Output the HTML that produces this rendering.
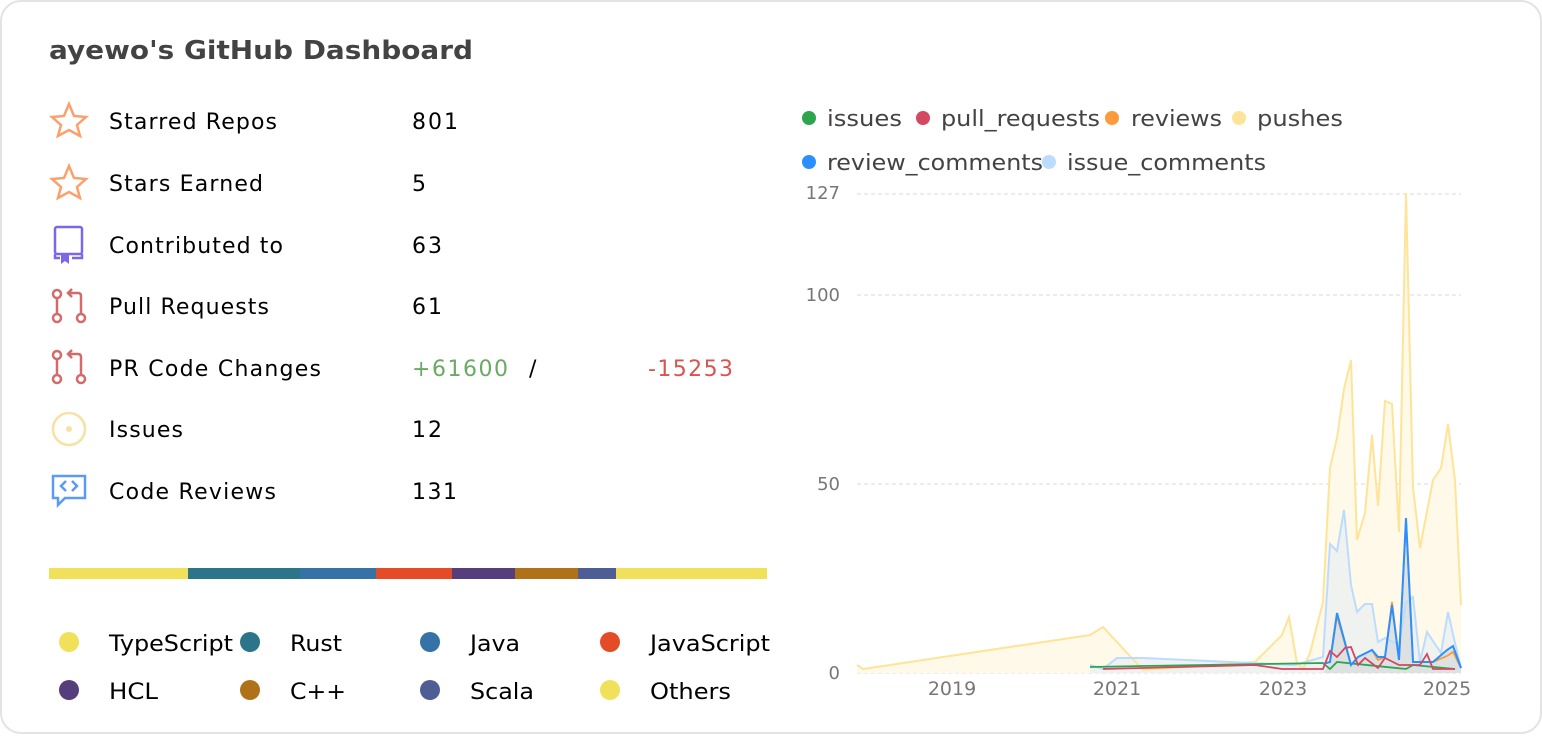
<!DOCTYPE html>
<html><head><meta charset="utf-8"><style>
html,body{margin:0;padding:0;background:#fff;}
body{width:1542px;height:734px;overflow:hidden;font-family:"DejaVu Sans","Liberation Sans",sans-serif;}
</style></head><body>
<svg width="1542" height="734" xmlns="http://www.w3.org/2000/svg" font-family="DejaVu Sans, Liberation Sans, sans-serif">
<rect x="1" y="1" width="1540" height="732" rx="20" fill="#fff" stroke="#e4e2e2" stroke-width="2"/>
<text x="49" y="59" font-size="26" font-weight="bold" fill="#434343" textLength="424" lengthAdjust="spacingAndGlyphs">ayewo's GitHub Dashboard</text>
<g fill="none" stroke-width="2.5">
<path d="M69 104 L74 116 L86 117 L77 125 L80 136 L69 130 L58 136 L61 125 L52 117 L64 116 Z" stroke="#fd9f6b"/>
<path d="M69 166 L74 178 L86 179 L77 187 L80 198 L69 192 L58 198 L61 187 L52 179 L64 178 Z" stroke="#fd9f6b"/>
<g stroke="#7d67e8"><rect x="55" y="227" width="27" height="27" rx="2"/><path d="M55 254 v4 h5 M72 258 h10 v-4"/></g>
<path d="M61 255 h8 v9 l-4 -3 l-4 3 z" fill="#7d67e8" stroke="none"/>
<g stroke="#d46a6a"><circle cx="57" cy="294" r="4"/><circle cx="57" cy="318" r="4"/><circle cx="81" cy="318" r="4"/><path d="M57 298 v16 M81 314 v-18 q0-3-3-3 h-9 M72 289 l-4 4 l4 4"/></g>
<g stroke="#d46a6a"><circle cx="57" cy="355" r="4"/><circle cx="57" cy="379" r="4"/><circle cx="81" cy="379" r="4"/><path d="M57 359 v16 M81 375 v-18 q0-3-3-3 h-9 M72 350 l-4 4 l4 4"/></g>
<circle cx="69" cy="429" r="16" stroke="#f6e2a2"/>
<g stroke="#5b9bf5"><path d="M53 476 h32 v22 h-20 l-7 7 v-7 h-5 z"/><path d="M66 481 l-5 5 l5 5 M72 481 l5 5 l-5 5"/></g>
</g>
<circle cx="69" cy="429" r="3" fill="#f6e2a2"/>
<g font-size="22" fill="#000" lengthAdjust="spacingAndGlyphs">
<text x="109" y="129" textLength="168">Starred Repos</text><text x="412" y="129" textLength="46">801</text>
<text x="109" y="191" textLength="154">Stars Earned</text><text x="412" y="191">5</text>
<text x="109" y="253" textLength="174">Contributed to</text><text x="412" y="253" textLength="30">63</text>
<text x="109" y="314" textLength="160">Pull Requests</text><text x="412" y="314" textLength="30">61</text>
<text x="109" y="376" textLength="212">PR Code Changes</text><text x="412" y="376" fill="#6aaa64" textLength="96">+61600</text><text x="529" y="376">/</text><text x="648" y="376" fill="#d9534f" textLength="85">-15253</text>
<text x="109" y="437" textLength="74">Issues</text><text x="412" y="437" textLength="30">12</text>
<text x="109" y="499" textLength="167">Code Reviews</text><text x="412" y="499" textLength="45">131</text>
</g>
<rect x="49" y="568" width="139" height="11" fill="#f1e05a"/>
<rect x="188" y="568" width="112" height="11" fill="#2b7489"/>
<rect x="300" y="568" width="76" height="11" fill="#3572a5"/>
<rect x="376" y="568" width="76" height="11" fill="#e34c26"/>
<rect x="452" y="568" width="63" height="11" fill="#563d7c"/>
<rect x="515" y="568" width="63" height="11" fill="#b07219"/>
<rect x="578" y="568" width="38" height="11" fill="#4f5d95"/>
<rect x="616" y="568" width="151" height="11" fill="#f1e05a"/>
<g font-size="22" fill="#000">
<circle cx="69" cy="642" r="10" fill="#f1e05a"/><text x="109" y="651" textLength="124" lengthAdjust="spacingAndGlyphs">TypeScript</text>
<circle cx="250" cy="642" r="10" fill="#2b7489"/><text x="290" y="651" textLength="52" lengthAdjust="spacingAndGlyphs">Rust</text>
<circle cx="430" cy="642" r="10" fill="#3572a5"/><text x="470" y="651" textLength="50" lengthAdjust="spacingAndGlyphs">Java</text>
<circle cx="610" cy="642" r="10" fill="#e34c26"/><text x="650" y="651" textLength="120" lengthAdjust="spacingAndGlyphs">JavaScript</text>
<circle cx="69" cy="690" r="10" fill="#563d7c"/><text x="109" y="699" textLength="49" lengthAdjust="spacingAndGlyphs">HCL</text>
<circle cx="250" cy="690" r="10" fill="#b07219"/><text x="290" y="699" textLength="56" lengthAdjust="spacingAndGlyphs">C++</text>
<circle cx="430" cy="690" r="10" fill="#4f5d95"/><text x="470" y="699" textLength="64" lengthAdjust="spacingAndGlyphs">Scala</text>
<circle cx="610" cy="690" r="10" fill="#f1e05a"/><text x="650" y="699" textLength="81" lengthAdjust="spacingAndGlyphs">Others</text>
</g>
<g font-size="22" fill="#434343">
<circle cx="809" cy="118" r="7" fill="#2ea44f"/><text x="827" y="126" textLength="75" lengthAdjust="spacingAndGlyphs">issues</text>
<circle cx="923" cy="118" r="7" fill="#d44862"/><text x="941" y="126" textLength="159" lengthAdjust="spacingAndGlyphs">pull_requests</text>
<circle cx="1112" cy="118" r="7" fill="#fd9a3b"/><text x="1131" y="126" textLength="91" lengthAdjust="spacingAndGlyphs">reviews</text>
<circle cx="1239" cy="118" r="7" fill="#fde498"/><text x="1257" y="126" textLength="86" lengthAdjust="spacingAndGlyphs">pushes</text>
<circle cx="809" cy="162" r="7" fill="#2b8fff"/><text x="827" y="170" textLength="216" lengthAdjust="spacingAndGlyphs">review_comments</text>
<circle cx="1049" cy="162" r="7" fill="#bcdcff"/><text x="1067" y="170" textLength="199" lengthAdjust="spacingAndGlyphs">issue_comments</text>
</g>
<g stroke="#e0e0e0" stroke-dasharray="4 3" stroke-width="1.3">
<line x1="857" y1="194" x2="1461" y2="194"/><line x1="857" y1="295" x2="1461" y2="295"/>
<line x1="857" y1="484" x2="1461" y2="484"/><line x1="857" y1="673" x2="1461" y2="673"/>
</g>
<g font-size="18" fill="#777" text-anchor="end">
<text x="840" y="199">127</text><text x="840" y="301">100</text><text x="840" y="490">50</text><text x="840" y="679">0</text>
</g>
<g font-size="19" fill="#777" text-anchor="middle">
<text x="952" y="695">2019</text><text x="1117" y="695">2021</text><text x="1283" y="695">2023</text><text x="1447" y="695">2025</text>
</g>
<polygon fill="#fef9e8" points="857,673 857,665 863,669 1090,635 1103,627 1143,670 1255,662 1282,635 1289,617 1297,663 1303,669 1310,653 1323,602 1330,468 1337,438 1344,389 1351,360 1357,540 1365,513 1372,435 1378,506 1385,401 1392,404 1399,532 1406,193 1413,487 1420,548 1433,480 1441,468 1448,424 1455,480 1461,605 1461,673"/>
<polygon fill="#eef1f1" opacity="0.9" points="1090,673 1090,665 1103,669 1117,658 1143,658 1295,665 1323,657 1330,544 1337,551 1344,510 1351,585 1357,612 1365,604 1372,604 1378,642 1385,638 1399,645 1406,603 1413,597 1420,662 1427,632 1441,653 1448,612 1455,643 1461,668 1461,673"/>
<polygon fill="#d8dcdf" opacity="0.8" points="1323,673 1330,662 1337,613 1351,665 1358,657 1372,650 1378,657 1385,657 1392,605 1399,660 1406,518 1413,662 1433,662 1447,650 1453,646 1461,668 1461,673"/>
<polyline fill="none" stroke="#fde498" stroke-width="2" points="857,665 863,669 1090,635 1103,627 1143,670 1255,662 1282,635 1289,617 1297,663 1303,669 1310,653 1323,602 1330,468 1337,438 1344,389 1351,360 1357,540 1365,513 1372,435 1378,506 1385,401 1392,404 1399,532 1406,193 1413,487 1420,548 1433,480 1441,468 1448,424 1455,480 1461,605"/>
<polyline fill="none" stroke="#bcdcff" stroke-width="2" points="1090,665 1103,669 1117,658 1143,658 1295,665 1323,657 1330,544 1337,551 1344,510 1351,585 1357,612 1365,604 1372,604 1378,642 1385,638 1399,645 1406,603 1413,597 1420,662 1427,632 1441,653 1448,612 1455,643 1461,668"/>
<polyline fill="none" stroke="#2ea44f" stroke-width="1.8" points="1090,667 1143,666 1323,663 1330,669 1337,662 1406,669 1413,665 1455,669"/>
<polyline fill="none" stroke="#fd9a3b" stroke-width="1.8" points="1323,664 1330,662 1337,616 1351,665 1358,657 1372,650 1378,660 1385,657 1392,602 1399,660 1406,520 1413,662 1433,662 1447,656 1453,652 1461,668"/>
<polyline fill="none" stroke="#2b8fff" stroke-width="2" points="1323,664 1330,662 1337,613 1351,665 1358,657 1372,650 1378,657 1385,657 1392,605 1399,660 1406,518 1413,662 1433,662 1447,650 1453,646 1461,668"/>
<polyline fill="none" stroke="#d44862" stroke-width="1.8" points="1103,669 1143,668 1255,665 1282,669 1323,669 1330,651 1337,657 1345,648 1351,647 1358,665 1365,658 1378,668 1385,658 1399,665 1420,665 1427,654 1433,669 1455,669"/>
</svg>
</body></html>
